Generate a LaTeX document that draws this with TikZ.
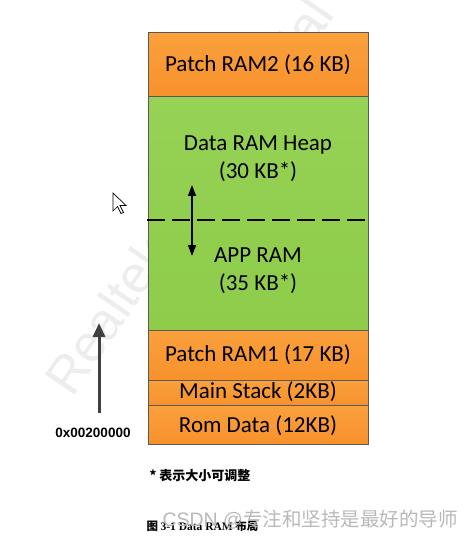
\documentclass[tikz,border=0pt]{standalone}
\usepackage{fontspec}
\setmainfont{Carlito}
\newfontfamily\cjkfont{Noto Sans CJK SC}
\newfontfamily\serifbold{Liberation Serif}
\newfontfamily\wmfont{Liberation Sans}
\usetikzlibrary{arrows.meta}
\definecolor{memorange}{RGB}{247,146,44}
\definecolor{memorangeT}{RGB}{250,160,60}
\definecolor{memgreen}{RGB}{142,204,74}
\definecolor{memgreenT}{RGB}{150,210,85}
\tikzset{
  memblock/.style={draw=gray!70!black, line width=0.6pt, minimum width=220pt, anchor=north west, inner sep=0pt},
  orangeblock/.style={memblock, top color=memorangeT, bottom color=memorange},
  greenblock/.style={memblock, top color=memgreenT, bottom color=memgreen},
  memlabel/.style={font=\fontsize{23}{28}\selectfont, text=black, align=center},
  splitline/.style={line width=2.8pt, dash pattern=on 18pt off 7pt},
  adjustarrow/.style={line width=1.5pt, {Triangle[width=8pt,length=11pt]}-{Triangle[width=8pt,length=11pt]}},
  addrarrow/.style={line width=3pt, draw=black!75, -{Triangle[width=12pt,length=14pt]}},
  caption/.style={anchor=west, text=black}
}
\begin{document}
\begin{tikzpicture}[x=1pt,y=-1pt]
\useasboundingbox (0,0) rectangle (473,537);
\fill[white] (0,0) rectangle (473,537);
% watermark
\node[rotate=55.5, anchor=base west, inner sep=0pt, text=black!7, font=\fontsize{52}{52}\selectfont\wmfont] (wm) at (72,399) {Realtek Confidential};
% memory blocks
\node[orangeblock, minimum height=64pt] (p2) at (148,32) {};
\node[greenblock, minimum height=234pt] (green) at (148,96) {};
\node[orangeblock, minimum height=50pt] (p1) at (148,330) {};
\node[orangeblock, minimum height=25pt] (ms) at (148,380) {};
\node[orangeblock, minimum height=39pt] (rom) at (148,405) {};
% labels
\node[memlabel] (tp2) at (258,65) {Patch RAM2 (16 KB)};
\node[memlabel] (theap) at (258,159) {Data RAM Heap\\(30 KB*)};
\node[memlabel] (tapp) at (258,271) {APP RAM\\(35 KB*)};
\node[memlabel] (tp1) at (258,355) {Patch RAM1 (17 KB)};
\node[memlabel] (tms) at (258,392) {Main Stack (2KB)};
\node[memlabel] (trom) at (258,426) {Rom Data (12KB)};
% dashed split
\coordinate (dl) at (147,220);
\coordinate (dr) at (371,220);
\draw[splitline] (dl) -- (dr);
% adjust arrow
\coordinate (aa) at (192,185);
\coordinate (ab) at (192,256);
\draw[adjustarrow] (ab) -- (aa);
% address arrow
\coordinate (ba) at (99,413);
\coordinate (bb) at (99,323);
\draw[addrarrow] (ba) -- (bb);
\node[font=\wmfont\bfseries\fontsize{13.5}{15}\selectfont, text=black] (addr) at (93,433) {0x00200000};
% mouse cursor
\draw[black, fill=white, line width=0.7pt, line join=miter]
  (113,193) -- (113,211) -- (117.5,206.5) -- (121,213.5) -- (123.5,212.5) -- (120,205.5) -- (126,205.5) -- cycle;
% captions
\node[caption, font=\cjkfont\bfseries\fontsize{13}{15}\selectfont] (note) at (146,476) {* 表示大小可调整};
\node[caption, font=\fontsize{11.5}{13}\selectfont] (cap) at (143,526) {{\cjkfont\bfseries 图} {\serifbold\bfseries 3-1 Data RAM} {\cjkfont\bfseries 布局}};
\node[caption, text=gray!55, font=\fontsize{19.5}{21}\selectfont\wmfont] (csdn) at (159,520) {CSDN @{\cjkfont 专注和坚持是最好的导师}};
\end{tikzpicture}
\end{document}
